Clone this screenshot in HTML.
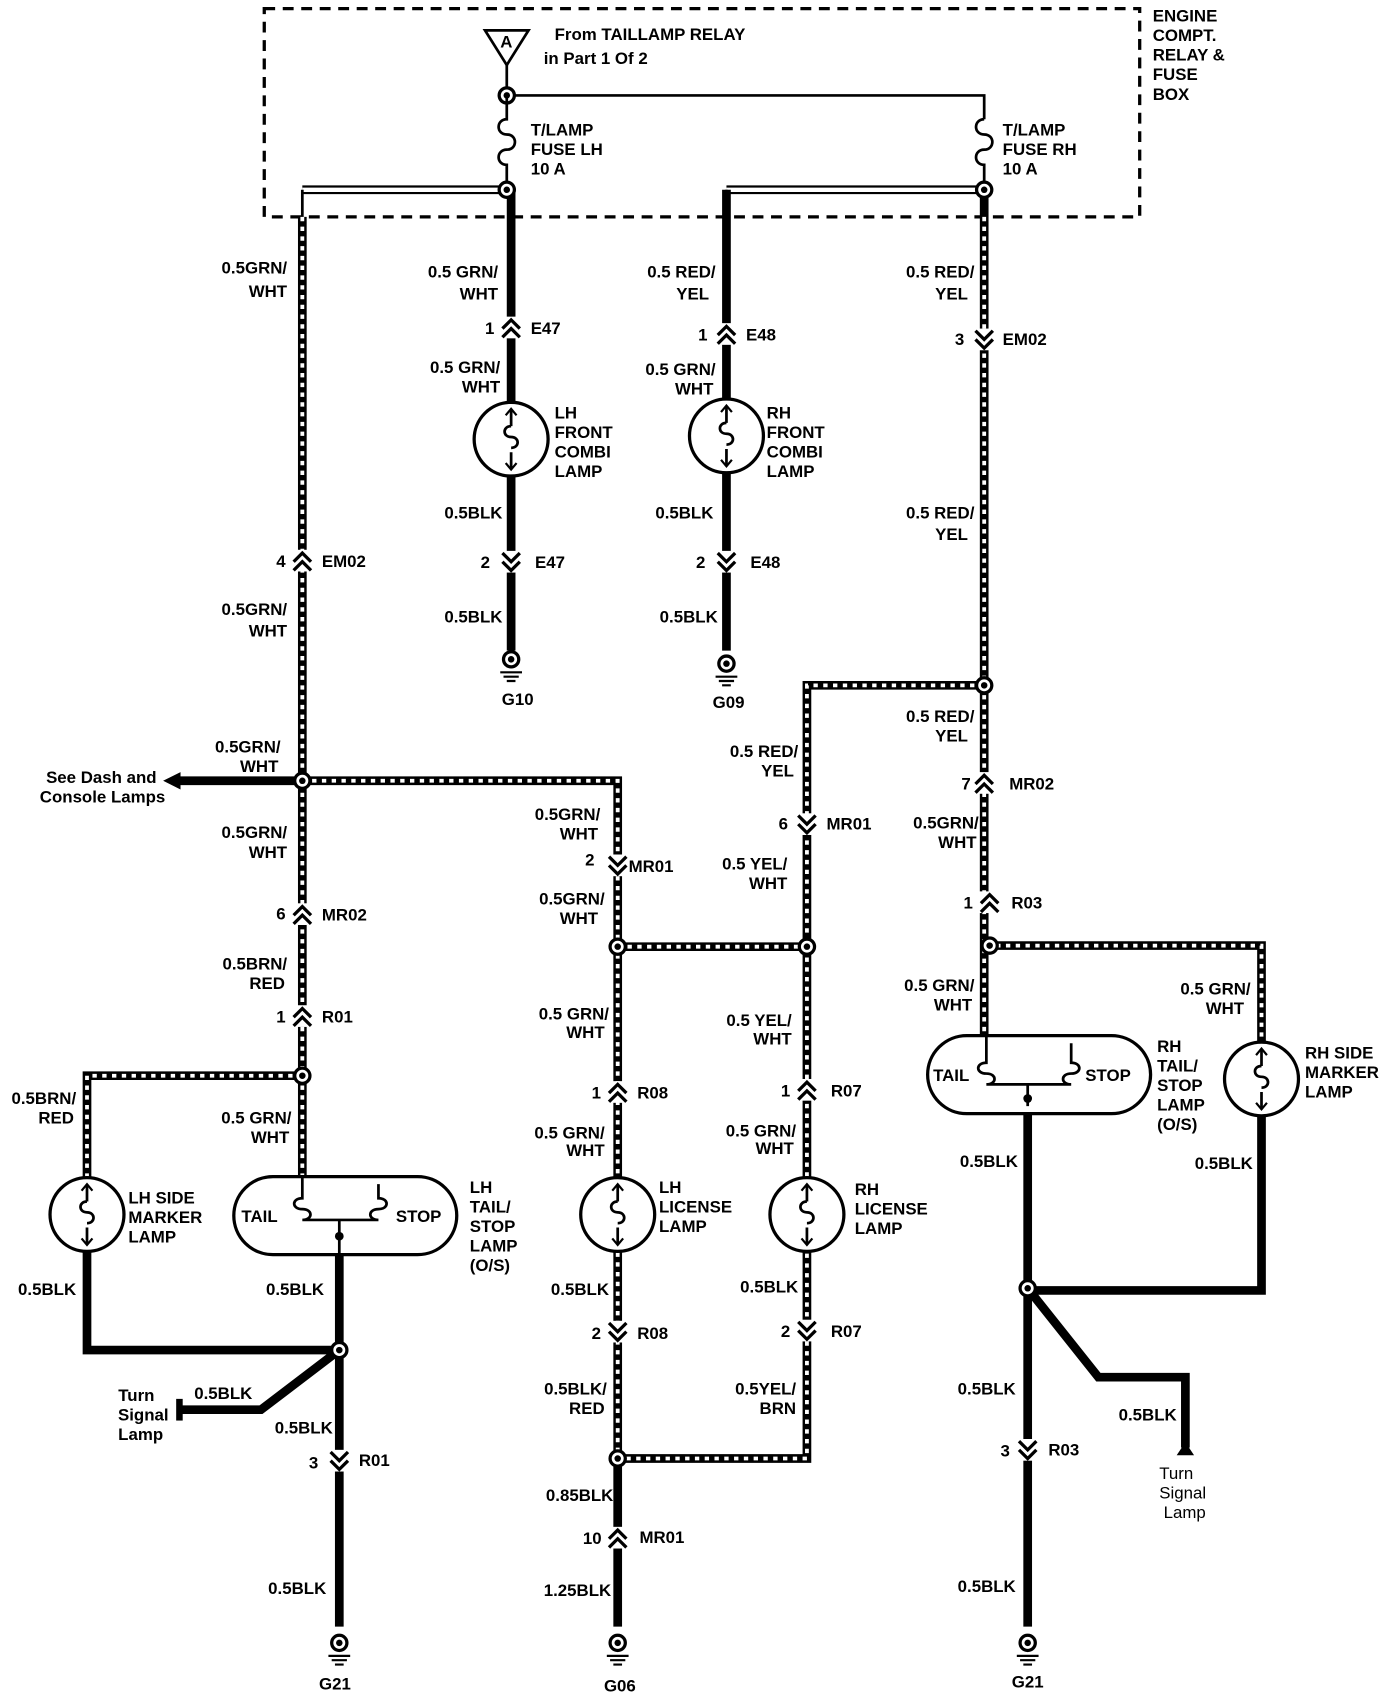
<!DOCTYPE html>
<html><head><meta charset="utf-8"><style>
html,body{margin:0;padding:0;background:#fff;}
svg{display:block}
text{font-family:"Liberation Sans",sans-serif;font-weight:bold;font-size:15.5px;fill:#000}
.t{fill:none;stroke:#000;stroke-width:8}
.h{fill:none;stroke:#fff;stroke-width:3.5;stroke-dasharray:4 5}
.s{fill:none;stroke:#000;stroke-width:8}
.n{fill:none;stroke:#000;stroke-width:2.5}
</style></head><body>
<svg width="1392" height="1696" viewBox="0 0 1280 1564" preserveAspectRatio="none" xmlns="http://www.w3.org/2000/svg">
<defs>
<g id="up"><path d="M-8,6 L0,-2 L8,6 M-8,-2 L0,-10 L8,-2" fill="none" stroke="#000" stroke-width="3"/></g>
<g id="dn"><path d="M-8,-6 L0,2 L8,-6 M-8,2 L0,10 L8,2" fill="none" stroke="#000" stroke-width="3"/></g>
<g id="dot"><circle r="7" fill="#fff" stroke="#000" stroke-width="3"/><circle r="3" fill="#000"/></g>
<g id="gnd"><circle r="7" fill="#fff" stroke="#000" stroke-width="3"/><circle r="3" fill="#000"/><path d="M-10,12 H10 M-7,16 H7 M-4,20 H4" stroke="#000" stroke-width="2"/></g>
<g id="lamp"><circle r="34" fill="#fff" stroke="#000" stroke-width="3"/><path d="M0,-28 V-12 M0,12 V28 M0,-12 c-8,0 -8,10 0,10 c8,0 8,10 0,10" fill="none" stroke="#000" stroke-width="2.5"/><path d="M-5,-22 L0,-28 L5,-22 M-5,22 L0,28 L5,22" fill="none" stroke="#000" stroke-width="2"/></g>
</defs>
<!-- box -->
<rect x="243" y="8" width="805" height="192" fill="none" stroke="#000" stroke-width="3" stroke-dasharray="10 7"/>
<text x="1060" y="20">ENGINE</text><text x="1060" y="38">COMPT.</text><text x="1060" y="56">RELAY &amp;</text><text x="1060" y="74">FUSE</text><text x="1060" y="92">BOX</text>
<path d="M446,28 H486 L466,60 Z" fill="#fff" stroke="#000" stroke-width="2.5"/><text x="460" y="44" font-size="13">A</text>
<text x="510" y="37">From TAILLAMP RELAY</text><text x="500" y="59">in  Part 1 Of 2</text>
<path class="n" d="M466,60 V88 H905 V110"/>
<use href="#dot" x="466" y="88" transform="translate(0,0)"/>
<path class="n" d="M466,88 V110 c-10,0 -10,14 0,14 c10,0 10,14 0,14 c-10,0 -10,14 0,14 V175 M905,110 c-10,0 -10,14 0,14 c10,0 10,14 0,14 c-10,0 -10,14 0,14 V175"/>
<text x="488" y="125">T/LAMP</text><text x="488" y="143">FUSE LH</text><text x="488" y="161">10 A</text>
<text x="922" y="125">T/LAMP</text><text x="922" y="143">FUSE RH</text><text x="922" y="161">10 A</text>
<!-- hatched wires -->
<path class="t" d="M278,200 V1085 M278,175 H466 M668,175 H905 M905,175 V955 M905,632 H742 V1085 M278,720 H568 V1085 M568,873 H742 M907,872 H1160 V960 M278,992 H80 V1085 M568,1155 V1345 H742 V1155"/>
<path class="h" d="M278,200 V1085 M905,200 V955 M905,632 H742 V1085 M278,720 H568 V1085 M568,873 H742 M907,872 H1160 V960 M278,992 H80 V1085 M568,1155 V1345 H742 V1155"/>
<path d="M278,175 H466 M668,175 H905" stroke="#fff" stroke-width="4" fill="none"/>
<path d="M278,175 V200" class="n"/><path d="M668,175 V200" class="n"/>
<path class="s" d="M160,720 H278"/><path d="M150,720 L166,712 L166,728 Z" fill="#000"/>
<!-- solid wires -->
<path class="s" d="M470,175 V600 M668,175 V600 M312,1140 V1500 M80,1155 V1245 H312 M312,1245 L240,1300 H165 M568,1345 V1500 M945,1015 V1500 M1160,1030 V1190 H945 M945,1188 L1010,1270 H1090 V1335"/>
<path d="M165,1290 V1310" stroke="#000" stroke-width="6"/>
<path d="M1082,1342 L1090,1330 L1098,1342 Z" fill="#000"/>
<!-- lamps -->
<use href="#lamp" x="470" y="405"/><use href="#lamp" x="668" y="402"/>
<use href="#lamp" x="80" y="1120"/><use href="#lamp" x="568" y="1120"/><use href="#lamp" x="742" y="1120"/><use href="#lamp" x="1160" y="995"/>
<!-- pills -->
<rect x="215" y="1085" width="205" height="72" rx="36" fill="#fff" stroke="#000" stroke-width="3"/>
<path class="n" d="M278,1085 V1105 c-10,0 -10,10 0,10 c10,0 10,10 0,10 H348 c-10,0 -10,-10 0,-10 c10,0 10,-10 0,-10 V1092 M312,1125 V1160"/>
<circle cx="312" cy="1140" r="4"/>
<text x="222" y="1127">TAIL</text><text x="364" y="1127">STOP</text>
<rect x="853" y="955" width="205" height="72" rx="36" fill="#fff" stroke="#000" stroke-width="3"/>
<path class="n" d="M907,955 V980 c-10,0 -10,10 0,10 c10,0 10,10 0,10 H985 c-10,0 -10,-10 0,-10 c10,0 10,-10 0,-10 V962 M945,1000 V1020"/>
<circle cx="945" cy="1013" r="4"/>
<text x="858" y="997">TAIL</text><text x="998" y="997">STOP</text>
<!-- dots -->
<use href="#dot" x="466" y="175"/><use href="#dot" x="905" y="175"/>
<use href="#dot" x="905" y="632"/><use href="#dot" x="278" y="720"/><use href="#dot" x="568" y="873"/><use href="#dot" x="742" y="873"/>
<use href="#dot" x="910" y="872"/><use href="#dot" x="278" y="992"/><use href="#dot" x="312" y="1245"/><use href="#dot" x="568" y="1345"/><use href="#dot" x="945" y="1188"/>
<use href="#gnd" x="470" y="608"/><use href="#gnd" x="668" y="612"/><use href="#gnd" x="312" y="1515"/><use href="#gnd" x="568" y="1515"/><use href="#gnd" x="945" y="1515"/>
<!-- connectors -->
<g fill="#fff"><rect x="460" y="292" width="20" height="20"/><rect x="658" y="298" width="20" height="20"/><rect x="895" y="303" width="20" height="20"/><rect x="268" y="507" width="20" height="20"/><rect x="460" y="508" width="20" height="20"/><rect x="658" y="508" width="20" height="20"/><rect x="732" y="750" width="20" height="20"/><rect x="895" y="712" width="20" height="20"/><rect x="558" y="788" width="20" height="20"/><rect x="268" y="833" width="20" height="20"/><rect x="900" y="822" width="20" height="20"/><rect x="268" y="927" width="20" height="20"/><rect x="558" y="997" width="20" height="20"/><rect x="732" y="995" width="20" height="20"/><rect x="558" y="1218" width="20" height="20"/><rect x="732" y="1217" width="20" height="20"/><rect x="302" y="1337" width="20" height="20"/><rect x="558" y="1408" width="20" height="20"/><rect x="935" y="1327" width="20" height="20"/></g>
<use href="#up" x="470" y="305"/><use href="#up" x="668" y="311"/><use href="#dn" x="905" y="311"/><use href="#up" x="278" y="520"/><use href="#dn" x="470" y="516"/><use href="#dn" x="668" y="516"/>
<use href="#dn" x="742" y="758"/><use href="#up" x="905" y="725"/><use href="#dn" x="568" y="796"/><use href="#up" x="278" y="846"/><use href="#up" x="910" y="835"/><use href="#up" x="278" y="940"/>
<use href="#up" x="568" y="1010"/><use href="#up" x="742" y="1008"/><use href="#dn" x="568" y="1226"/><use href="#dn" x="742" y="1225"/><use href="#dn" x="312" y="1345"/><use href="#up" x="568" y="1421"/><use href="#dn" x="945" y="1335"/>
<!-- connector labels -->
<text x="446" y="308">1</text><text x="488" y="308">E47</text>
<text x="642" y="314">1</text><text x="686" y="314">E48</text>
<text x="878" y="318">3</text><text x="922" y="318">EM02</text>
<text x="254" y="523">4</text><text x="296" y="523">EM02</text>
<text x="442" y="524">2</text><text x="492" y="524">E47</text>
<text x="640" y="524">2</text><text x="690" y="524">E48</text>
<text x="716" y="765">6</text><text x="760" y="765">MR01</text>
<text x="884" y="728">7</text><text x="928" y="728">MR02</text>
<text x="538" y="798">2</text><text x="578" y="804">MR01</text>
<text x="254" y="848">6</text><text x="296" y="849">MR02</text>
<text x="886" y="838">1</text><text x="930" y="838">R03</text>
<text x="254" y="943">1</text><text x="296" y="943">R01</text>
<text x="544" y="1013">1</text><text x="586" y="1013">R08</text>
<text x="718" y="1011">1</text><text x="764" y="1011">R07</text>
<text x="544" y="1235">2</text><text x="586" y="1235">R08</text>
<text x="718" y="1233">2</text><text x="764" y="1233">R07</text>
<text x="284" y="1354">3</text><text x="330" y="1352">R01</text>
<text x="536" y="1424">10</text><text x="588" y="1423">MR01</text>
<text x="920" y="1343">3</text><text x="964" y="1342">R03</text>
<!-- wire labels -->
<g text-anchor="end">
<text x="264" y="252">0.5GRN/</text><text x="264" y="274">WHT</text>
<text x="458" y="256">0.5 GRN/</text><text x="458" y="276">WHT</text>
<text x="658" y="256">0.5 RED/</text><text x="652" y="276">YEL</text>
<text x="896" y="256">0.5 RED/</text><text x="890" y="276">YEL</text>
<text x="460" y="344">0.5 GRN/</text><text x="460" y="362">WHT</text>
<text x="658" y="346">0.5 GRN/</text><text x="656" y="364">WHT</text>
<text x="462" y="478">0.5BLK</text><text x="656" y="478">0.5BLK</text>
<text x="896" y="478">0.5 RED/</text><text x="890" y="498">YEL</text>
<text x="264" y="567">0.5GRN/</text><text x="264" y="587">WHT</text>
<text x="462" y="574">0.5BLK</text><text x="660" y="574">0.5BLK</text>
<text x="896" y="666">0.5 RED/</text><text x="890" y="684">YEL</text>
<text x="734" y="698">0.5 RED/</text><text x="730" y="716">YEL</text>
<text x="258" y="694">0.5GRN/</text><text x="256" y="712">WHT</text>
<text x="264" y="773">0.5GRN/</text><text x="264" y="791">WHT</text>
<text x="552" y="756">0.5GRN/</text><text x="550" y="774">WHT</text>
<text x="900" y="764">0.5GRN/</text><text x="898" y="782">WHT</text>
<text x="724" y="802">0.5 YEL/</text><text x="724" y="820">WHT</text>
<text x="556" y="834">0.5GRN/</text><text x="550" y="852">WHT</text>
<text x="264" y="894">0.5BRN/</text><text x="262" y="912">RED</text>
<text x="896" y="914">0.5 GRN/</text><text x="894" y="932">WHT</text>
<text x="1150" y="917">0.5 GRN/</text><text x="1144" y="935">WHT</text>
<text x="560" y="940">0.5 GRN/</text><text x="556" y="957">WHT</text>
<text x="728" y="946">0.5 YEL/</text><text x="728" y="963">WHT</text>
<text x="70" y="1018">0.5BRN/</text><text x="68" y="1036">RED</text>
<text x="268" y="1036">0.5 GRN/</text><text x="266" y="1054">WHT</text>
<text x="556" y="1050">0.5 GRN/</text><text x="556" y="1066">WHT</text>
<text x="732" y="1048">0.5 GRN/</text><text x="730" y="1064">WHT</text>
<text x="936" y="1076">0.5BLK</text><text x="1152" y="1078">0.5BLK</text>
<text x="70" y="1194">0.5BLK</text><text x="298" y="1194">0.5BLK</text>
<text x="560" y="1194">0.5BLK</text><text x="734" y="1192">0.5BLK</text>
<text x="232" y="1290">0.5BLK</text>
<text x="306" y="1322">0.5BLK</text>
<text x="558" y="1286">0.5BLK/</text><text x="556" y="1304">RED</text>
<text x="732" y="1286">0.5YEL/</text><text x="732" y="1304">BRN</text>
<text x="934" y="1286">0.5BLK</text><text x="1082" y="1310">0.5BLK</text>
<text x="564" y="1384">0.85BLK</text>
<text x="300" y="1470">0.5BLK</text><text x="562" y="1472">1.25BLK</text><text x="934" y="1468">0.5BLK</text>
<text x="144" y="722" font-weight="normal">See Dash and</text><text x="152" y="740" font-weight="normal">Console Lamps</text>
<text x="142" y="1292" font-weight="normal">Turn</text><text x="155" y="1310" font-weight="normal">Signal</text><text x="150" y="1328" font-weight="normal">Lamp</text>
</g>
<g font-weight="normal"><text x="1066" y="1364" style="font-weight:normal">Turn</text><text x="1066" y="1382" style="font-weight:normal">Signal</text><text x="1070" y="1400" style="font-weight:normal">Lamp</text></g>
<!-- component labels -->
<text x="510" y="386">LH</text><text x="510" y="404">FRONT</text><text x="510" y="422">COMBI</text><text x="510" y="440">LAMP</text>
<text x="705" y="386">RH</text><text x="705" y="404">FRONT</text><text x="705" y="422">COMBI</text><text x="705" y="440">LAMP</text>
<text x="118" y="1110">LH SIDE</text><text x="118" y="1128">MARKER</text><text x="118" y="1146">LAMP</text>
<text x="432" y="1100">LH</text><text x="432" y="1118">TAIL/</text><text x="432" y="1136">STOP</text><text x="432" y="1154">LAMP</text><text x="432" y="1172">(O/S)</text>
<text x="606" y="1100">LH</text><text x="606" y="1118">LICENSE</text><text x="606" y="1136">LAMP</text>
<text x="786" y="1102">RH</text><text x="786" y="1120">LICENSE</text><text x="786" y="1138">LAMP</text>
<text x="1064" y="970">RH</text><text x="1064" y="988">TAIL/</text><text x="1064" y="1006">STOP</text><text x="1064" y="1024">LAMP</text><text x="1064" y="1042">(O/S)</text>
<text x="1200" y="976">RH SIDE</text><text x="1200" y="994">MARKER</text><text x="1200" y="1012">LAMP</text>
<g text-anchor="middle"><text x="476" y="650">G10</text><text x="670" y="653">G09</text><text x="308" y="1558">G21</text><text x="570" y="1560">G06</text><text x="945" y="1556">G21</text></g>
</svg>
</body></html>
